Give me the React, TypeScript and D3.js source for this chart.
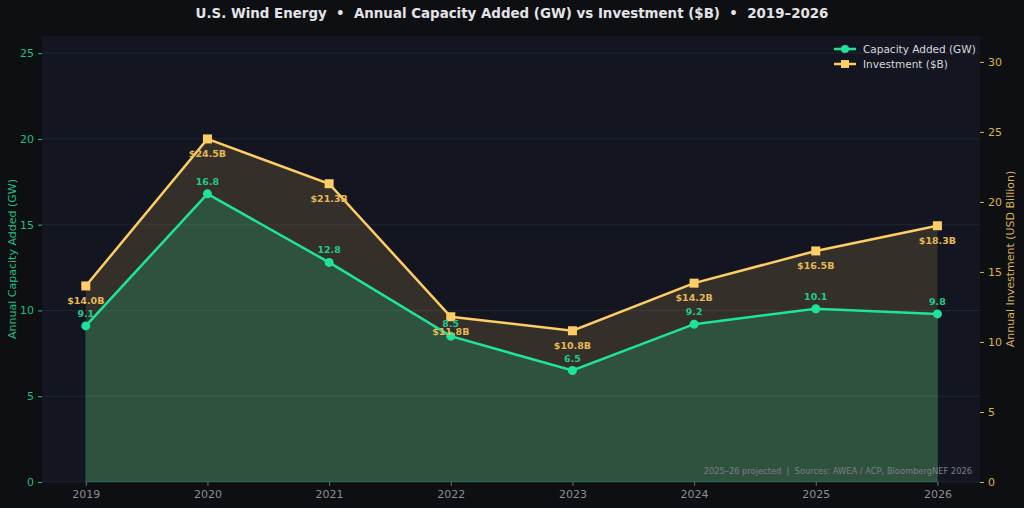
import React, { useEffect, useRef } from 'react';
import * as d3 from 'd3';

const years = [2019, 2020, 2021, 2022, 2023, 2024, 2025, 2026];
const capacityGW = [9.1, 16.8, 12.8, 8.5, 6.5, 9.2, 10.1, 9.8];
const investmentB = [14.0, 24.5, 21.3, 11.8, 10.8, 14.2, 16.5, 18.3];
const leftTicks = [0, 5, 10, 15, 20, 25];
const rightTicks = [0, 5, 10, 15, 20, 25, 30];

const W = 1024;
const H = 508;
const GREEN = '#1fe39b';
const YELLOW = '#ffcd66';
const FONT = 'DejaVu Sans, sans-serif';

const App: React.FC = () => {
  const svgRef = useRef<SVGSVGElement>(null);

  useEffect(() => {
    if (!svgRef.current) return;
    const svg = d3.select(svgRef.current);
    svg.selectAll('*').remove();

    const margin = { top: 36, right: 44, bottom: 26, left: 42 };
    const width = W - margin.left - margin.right;
    const height = H - margin.top - margin.bottom;

    svg.append('rect').attr('width', W).attr('height', H).attr('fill', '#0e0f13');

    const g = svg.append('g').attr('transform', `translate(${margin.left},${margin.top})`);
    g.append('rect').attr('width', width).attr('height', height).attr('fill', '#131620');

    const x = d3.scaleLinear().domain([2018.64, 2026.35]).range([0, width]);
    const yL = d3.scaleLinear().domain([0, 26]).range([height, 0]);
    const yR = d3.scaleLinear().domain([0, 31.85]).range([height, 0]);

    // grid
    g.selectAll('.grid')
      .data(leftTicks)
      .enter()
      .append('line')
      .attr('x1', 0)
      .attr('x2', width)
      .attr('y1', d => yL(d))
      .attr('y2', d => yL(d))
      .attr('stroke', '#232738')
      .attr('stroke-width', 0.8);

    const idx = d3.range(years.length);

    // investment fill down to zero
    const invArea = d3.area<number>()
      .x(i => x(years[i]))
      .y0(yR(0))
      .y1(i => yR(investmentB[i]));
    g.append('path').datum(idx).attr('d', invArea).attr('fill', YELLOW).attr('fill-opacity', 0.14);

    // capacity fill
    const capArea = d3.area<number>()
      .x(i => x(years[i]))
      .y0(yL(0))
      .y1(i => yL(capacityGW[i]));
    g.append('path').datum(idx).attr('d', capArea)
      .attr('fill', GREEN).attr('fill-opacity', 0.2)
      .attr('stroke', GREEN).attr('stroke-opacity', 0.15).attr('stroke-width', 1);

    // lines
    const invLine = d3.line<number>().x(i => x(years[i])).y(i => yR(investmentB[i]));
    const capLine = d3.line<number>().x(i => x(years[i])).y(i => yL(capacityGW[i]));
    g.append('path').datum(idx).attr('d', invLine).attr('fill', 'none').attr('stroke', YELLOW).attr('stroke-width', 2.5);
    g.append('path').datum(idx).attr('d', capLine).attr('fill', 'none').attr('stroke', GREEN).attr('stroke-width', 2.5);

    // markers
    g.selectAll('.sq')
      .data(idx)
      .enter()
      .append('rect')
      .attr('x', i => x(years[i]) - 4.5)
      .attr('y', i => yR(investmentB[i]) - 4.5)
      .attr('width', 9)
      .attr('height', 9)
      .attr('fill', YELLOW);
    g.selectAll('.dot')
      .data(idx)
      .enter()
      .append('circle')
      .attr('cx', i => x(years[i]))
      .attr('cy', i => yL(capacityGW[i]))
      .attr('r', 4.5)
      .attr('fill', GREEN);

    // value labels
    g.selectAll('.capLbl')
      .data(idx)
      .enter()
      .append('text')
      .attr('x', i => x(years[i]))
      .attr('y', i => yL(capacityGW[i]) - 9)
      .attr('text-anchor', 'middle')
      .attr('font-family', FONT)
      .attr('font-size', 9.5)
      .attr('font-weight', 'bold')
      .attr('fill', '#22c98c')
      .text(i => capacityGW[i].toFixed(1));
    g.selectAll('.invLbl')
      .data(idx)
      .enter()
      .append('text')
      .attr('x', i => x(years[i]))
      .attr('y', i => yR(investmentB[i]) + 18)
      .attr('text-anchor', 'middle')
      .attr('font-family', FONT)
      .attr('font-size', 9.5)
      .attr('font-weight', 'bold')
      .attr('fill', '#e3b957')
      .text(i => `$${investmentB[i].toFixed(1)}B`);

    // axes
    const styleAxis = (sel: any, color: string, tickColor: string) => {
      sel.select('.domain').remove();
      sel.selectAll('line').attr('stroke', tickColor);
      sel.selectAll('text').attr('fill', color).attr('font-family', FONT).attr('font-size', 11);
    };

    g.append('g')
      .call(d3.axisLeft(yL).tickValues(leftTicks).tickSize(4).tickPadding(4))
      .call((s: any) => styleAxis(s, '#1fbf85', '#1fbf85'));

    g.append('g')
      .attr('transform', `translate(${width},0)`)
      .call(d3.axisRight(yR).tickValues(rightTicks).tickSize(4).tickPadding(4))
      .call((s: any) => styleAxis(s, '#d9b252', '#d9b252'));

    g.append('g')
      .attr('transform', `translate(0,${height})`)
      .call(d3.axisBottom(x).tickValues(years).tickFormat(d3.format('d')).tickSize(4).tickPadding(4))
      .call((s: any) => styleAxis(s, '#8a8d96', '#6a6d76'));

    // axis titles
    svg.append('text')
      .attr('transform', `translate(16,${margin.top + height / 2}) rotate(-90)`)
      .attr('text-anchor', 'middle')
      .attr('font-family', FONT)
      .attr('font-size', 11)
      .attr('fill', '#1fbf85')
      .text('Annual Capacity Added (GW)');
    svg.append('text')
      .attr('transform', `translate(1014,259) rotate(-90)`)
      .attr('text-anchor', 'middle')
      .attr('font-family', FONT)
      .attr('font-size', 11)
      .attr('fill', '#d9b252')
      .text('Annual Investment (USD Billion)');

    // title
    svg.append('text')
      .attr('x', W / 2)
      .attr('y', 18)
      .attr('text-anchor', 'middle')
      .attr('font-family', FONT)
      .attr('font-size', 13.4)
      .attr('font-weight', 'bold')
      .attr('fill', '#e4e4e8')
      .style('white-space', 'pre')
      .text('U.S. Wind Energy  •  Annual Capacity Added (GW) vs Investment ($B)  •  2019–2026');

    // footnote
    g.append('text')
      .attr('x', width - 8)
      .attr('y', height - 8)
      .attr('text-anchor', 'end')
      .attr('font-family', FONT)
      .attr('font-size', 8.3)
      .attr('fill', '#7b7e86')
      .style('white-space', 'pre')
      .text('2025–26 projected  |  Sources: AWEA / ACP, BloombergNEF 2026');

    // legend
    const legend = svg.append('g').attr('transform', `translate(834,49)`);
    const items = [
      { label: 'Capacity Added (GW)', color: GREEN, shape: 'circle' },
      { label: 'Investment ($B)', color: YELLOW, shape: 'square' },
    ];
    items.forEach((it, k) => {
      const row = legend.append('g').attr('transform', `translate(0,${k * 15})`);
      row.append('line').attr('x1', 0).attr('x2', 22).attr('y1', 0).attr('y2', 0)
        .attr('stroke', it.color).attr('stroke-width', 2.5);
      if (it.shape === 'circle') {
        row.append('circle').attr('cx', 11).attr('cy', 0).attr('r', 4).attr('fill', it.color);
      } else {
        row.append('rect').attr('x', 7).attr('y', -4).attr('width', 8).attr('height', 8).attr('fill', it.color);
      }
      row.append('text')
        .attr('x', 29)
        .attr('y', 4)
        .attr('font-family', FONT)
        .attr('font-size', 10.5)
        .attr('fill', '#d8d8dc')
        .text(it.label);
    });
  }, []);

  return <svg ref={svgRef} width={W} height={H} style={{ display: 'block', position: 'absolute', left: 0, top: 0 }} />;
};

export default App;
